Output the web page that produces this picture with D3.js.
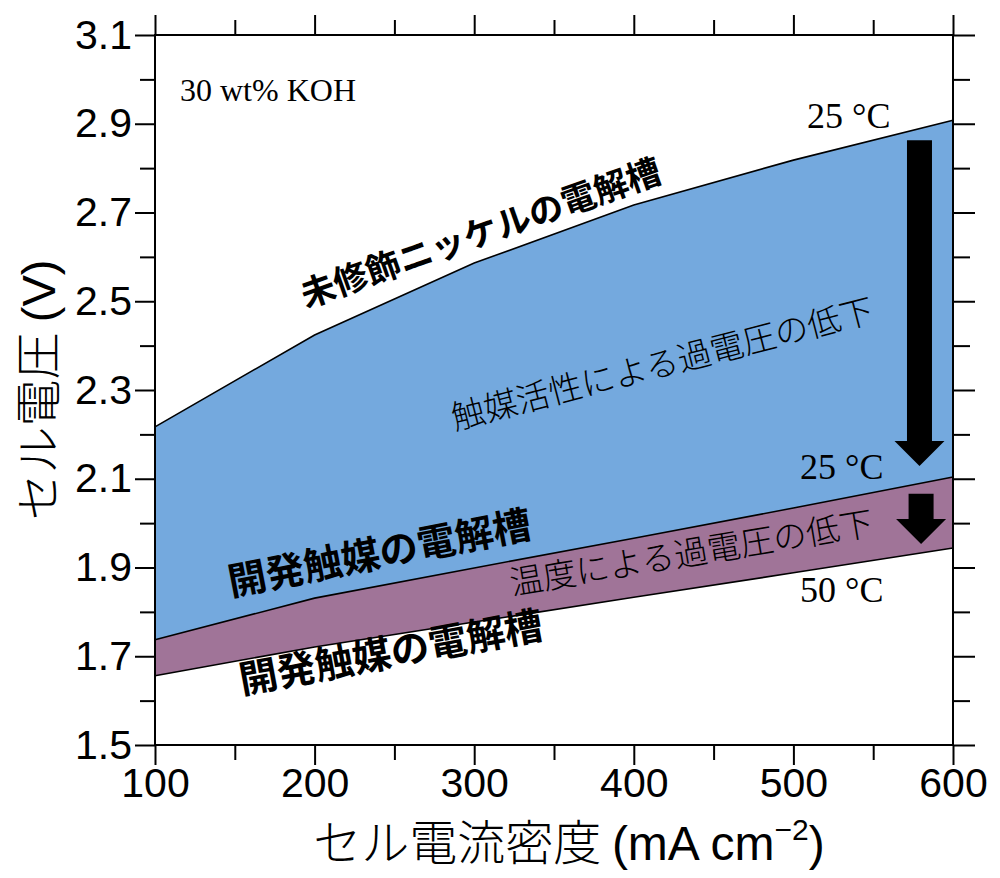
<!DOCTYPE html>
<html>
<head>
<meta charset="utf-8">
<script src="https://cdn.jsdelivr.net/npm/d3@7/dist/d3.min.js"></script>
<style>
  body { margin: 0; background: #fff; }
  svg { display: block; }
  .tick text { font-family: "Liberation Sans", Arial, sans-serif; }
</style>
</head>
<body>
<svg id="chart" width="1000" height="878"></svg>
<script>
// 電流密度 (mA cm-2)
const currentDensity = [100, 200, 300, 400, 500, 600];
// セル電圧 (V)
const unmodifiedNi25 = [2.217, 2.424, 2.586, 2.717, 2.818, 2.908];
const developed25 = [1.737, 1.831, 1.899, 1.966, 2.034, 2.104];
const developed50 = [1.656, 1.721, 1.777, 1.833, 1.888, 1.944];

const xMajor = [100, 200, 300, 400, 500, 600];
const xMinor = [150, 250, 350, 450, 550];
const yMajor = [1.5, 1.7, 1.9, 2.1, 2.3, 2.5, 2.7, 2.9, 3.1];
const yMinor = [1.6, 1.8, 2.0, 2.2, 2.4, 2.6, 2.8, 3.0];

// 矢印 (x, 始点, 先端)
const arrows = [
  { x: 579, top: 2.863, tip: 2.129 },
  { x: 580, top: 2.066, tip: 1.953 }
];

const svg = d3.select('#chart');
const margin = { left: 155, top: 35, right: 47, bottom: 133 };
const W = 1000, H = 878;

const x = d3.scaleLinear().domain([100, 600]).range([margin.left, W - margin.right]);
const y = d3.scaleLinear().domain([1.5, 3.1]).range([H - margin.bottom, margin.top]);

const rows = currentDensity.map((c, i) => ({
  c, ni: unmodifiedNi25[i], d25: developed25[i], d50: developed50[i]
}));

// 塗りつぶし
const blueArea = d3.area().x(d => x(d.c)).y0(d => y(d.d25)).y1(d => y(d.ni));
const purpleArea = d3.area().x(d => x(d.c)).y0(d => y(d.d50)).y1(d => y(d.d25));

svg.append('path').datum(rows).attr('d', blueArea).attr('fill', '#74a9de');
svg.append('path').datum(rows).attr('d', purpleArea).attr('fill', '#a07498');

['ni', 'd25', 'd50'].forEach(k => {
  svg.append('path').datum(rows)
    .attr('d', d3.line().x(d => x(d.c)).y(d => y(d[k])))
    .attr('fill', 'none').attr('stroke', '#000').attr('stroke-width', 1.6);
});

// 矢印
const headLen = 25, headHalf = 25, shaftHalf = 12.5;
arrows.forEach(a => {
  const cx = x(a.x), yt = y(a.top), yp = y(a.tip), yb = yp - headLen;
  svg.append('path')
    .attr('d', `M${cx - shaftHalf},${yt} L${cx + shaftHalf},${yt} L${cx + shaftHalf},${yb} L${cx + headHalf},${yb} L${cx},${yp} L${cx - headHalf},${yb} L${cx - shaftHalf},${yb} Z`)
    .attr('fill', '#000');
});

// 軸
function drawAxis(axis, transform, labels) {
  const g = svg.append('g').attr('transform', transform).call(axis);
  g.select('.domain').remove();
  g.selectAll('line').attr('stroke', '#000').attr('stroke-width', 2);
  if (!labels) g.selectAll('text').remove();
  return g;
}

const bx = `translate(0,${H - margin.bottom})`;
const tx = `translate(0,${margin.top})`;
const lx = `translate(${margin.left},0)`;
const rx = `translate(${W - margin.right},0)`;

const bottomG = drawAxis(d3.axisBottom(x).tickValues(xMajor).tickSize(20).tickPadding(3).tickFormat(d3.format('d')), bx, true);
bottomG.selectAll('text').attr('font-size', 41).attr('fill', '#000');
drawAxis(d3.axisBottom(x).tickValues(xMinor).tickSize(15), bx, false);
drawAxis(d3.axisBottom(x).tickValues(xMajor).tickSize(-20), tx, false);
drawAxis(d3.axisBottom(x).tickValues(xMinor).tickSize(-15), tx, false);

const leftG = drawAxis(d3.axisLeft(y).tickValues(yMajor).tickSize(20).tickPadding(3).tickFormat(d3.format('.1f')), lx, true);
leftG.selectAll('text').attr('font-size', 41).attr('fill', '#000');
drawAxis(d3.axisLeft(y).tickValues(yMinor).tickSize(15), lx, false);
drawAxis(d3.axisRight(y).tickValues(yMajor).tickSize(22), rx, false);
drawAxis(d3.axisRight(y).tickValues(yMinor).tickSize(17), rx, false);

// 枠
svg.append('rect')
  .attr('x', x(100)).attr('y', y(3.1))
  .attr('width', x(600) - x(100)).attr('height', y(1.5) - y(3.1))
  .attr('fill', 'none').attr('stroke', '#000').attr('stroke-width', 2);

// 軸タイトル
const sans = '"Liberation Sans", Arial, sans-serif';
const xTitle = svg.append('text')
  .attr('x', 569).attr('y', 860)
  .attr('text-anchor', 'middle')
  .attr('font-size', 48);
xTitle.append('tspan').attr('font-family', '"Noto Sans CJK JP"').attr('font-weight', 300).text('セル電流密度 ');
xTitle.append('tspan').attr('font-family', sans).text('(mA cm');
xTitle.append('tspan').attr('font-family', sans).attr('font-size', 30).attr('dy', -20).text('−2');
xTitle.append('tspan').attr('font-family', sans).attr('dy', 20).text(')');

const yTitle = svg.append('text')
  .attr('transform', `translate(55,${(y(1.5) + y(3.1)) / 2}) rotate(-90)`)
  .attr('text-anchor', 'middle')
  .attr('font-size', 47);
yTitle.append('tspan').attr('font-family', '"Noto Sans CJK JP"').attr('font-weight', 300).text('セル電圧 ');
yTitle.append('tspan').attr('font-family', sans).text('(V)');

// 注記
const serif = '"Liberation Serif", "Times New Roman", serif';
svg.append('text').attr('x', 180).attr('y', 101).attr('font-family', serif).attr('font-size', 32).text('30 wt% KOH');
svg.append('text').attr('x', 807).attr('y', 128).attr('font-family', serif).attr('font-size', 36).text('25 °C');
svg.append('text').attr('x', 800).attr('y', 479).attr('font-family', serif).attr('font-size', 36).text('25 °C');
svg.append('text').attr('x', 800).attr('y', 602).attr('font-family', serif).attr('font-size', 36).text('50 °C');

const labels = [
  { t: '未修飾ニッケルの電解槽', x: 306, y: 308, a: -19.5, s: 34.5, w: 700 },
  { t: '触媒活性による過電圧の低下', x: 455, y: 430, a: -14.5, s: 33.5, w: 300 },
  { t: '開発触媒の電解槽', x: 231, y: 596, a: -11, s: 38.5, w: 700 },
  { t: '温度による過電圧の低下', x: 512, y: 595, a: -9.5, s: 33.5, w: 300 },
  { t: '開発触媒の電解槽', x: 242, y: 694, a: -10.5, s: 38.5, w: 700 }
];
labels.forEach(l => {
  svg.append('text')
    .attr('transform', `translate(${l.x},${l.y}) rotate(${l.a})`)
    .attr('font-family', '"Noto Sans CJK JP"')
    .attr('font-weight', l.w)
    .attr('font-size', l.s)
    .attr('fill', '#000')
    .text(l.t);
});
</script>
</body>
</html>
